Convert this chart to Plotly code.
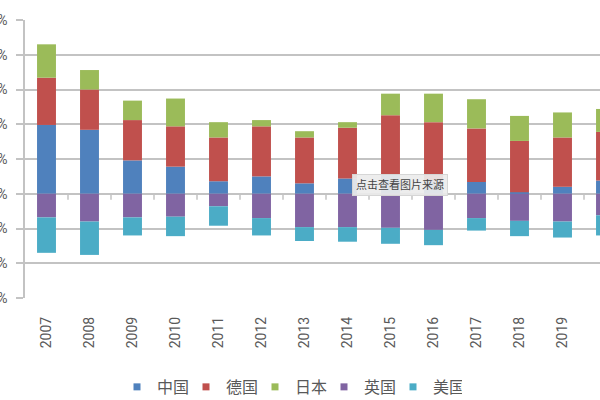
import plotly.graph_objects as go

years = ["2007", "2008", "2009", "2010", "2011", "2012", "2013",
         "2014", "2015", "2016", "2017", "2018", "2019", "2020"]
china   = [9.9, 9.2, 4.8, 3.9, 1.8, 2.5, 1.5, 2.2, 2.7, 1.8, 1.7, 0.2, 1.0, 1.9]
germany = [6.8, 5.8, 5.8, 5.8, 6.3, 7.2, 6.6, 7.3, 8.6, 8.5, 7.7, 7.4, 7.1, 7.0]
japan   = [4.8, 2.8, 2.8, 4.0, 2.2, 0.9, 0.9, 0.8, 3.1, 4.1, 4.2, 3.6, 3.6, 3.3]
uk      = [-3.4, -4.0, -3.4, -3.3, -1.8, -3.5, -4.8, -4.8, -4.9, -5.2, -3.5, -3.9, -4.0, -3.1]
usa     = [-5.1, -4.8, -2.6, -2.8, -2.8, -2.5, -2.0, -2.1, -2.3, -2.2, -1.8, -2.2, -2.3, -2.9]

series_names = ["中国", "德国", "日本", "英国", "美国"]
series_vals = [china, germany, japan, uk, usa]
colors = ["#4F81BD", "#C0504D", "#9BBB59", "#8064A2", "#4BACC6"]

y_ticks = [-15, -10, -5, 0, 5, 10, 15, 20, 25]
y_ticktext = [f"{v}%" for v in y_ticks]

FONT = "Roboto, Noto Sans CJK SC, sans-serif"
GREY = "#595959"
GRID = "#C3C3C3"

fig = go.Figure()
for name, vals, col in zip(series_names, series_vals, colors):
    fig.add_trace(go.Bar(x=years, y=vals, name=name, marker_color=col,
                         marker_line_width=0, showlegend=False))
# legend proxies with small square markers
for name, col in zip(series_names, colors):
    fig.add_trace(go.Scatter(x=[None], y=[None], mode="markers", name=name,
                             marker=dict(symbol="square", size=7, color=col)))

# small tick marks on the zero line at category boundaries
shapes = []
for i in range(len(years) - 1):
    shapes.append(dict(type="line", xref="x", yref="y", x0=i + 0.5, x1=i + 0.5,
                       ysizemode="pixel", yanchor=0, y0=0, y1=-6,
                       line=dict(color=GRID, width=1.5)))

fig.update_layout(
    width=600, height=400,
    margin=dict(l=25, r=0, t=20, b=102, autoexpand=False),
    paper_bgcolor="white", plot_bgcolor="white",
    barmode="relative", bargap=0.56,
    font=dict(family=FONT, color=GREY, size=13),
    shapes=shapes,
    xaxis=dict(range=[-0.5, 12.872], type="category", showgrid=False,
               tickangle=-90, tickfont=dict(size=14, color=GREY),
               ticks="", showline=False, ticklabelstandoff=15,
               automargin=False, fixedrange=True),
    yaxis=dict(range=[-15, 25], tickvals=y_ticks, ticktext=y_ticktext,
               showgrid=True, gridcolor=GRID, gridwidth=1.5,
               zeroline=False, showline=True, linecolor=GRID, linewidth=1.5,
               ticks="outside", ticklen=7, tickcolor=GRID, tickwidth=1.5,
               tickfont=dict(size=14, color=GREY), ticklabelstandoff=6,
               automargin=False, fixedrange=True),
    legend=dict(orientation="h", x=0.16, xanchor="left", y=-0.32, yanchor="middle",
                font=dict(size=16, color=GREY), entrywidth=24, entrywidthmode="pixels",
                itemclick=False, itemdoubleclick=False, bgcolor="rgba(0,0,0,0)"),
    annotations=[dict(text="点击查看图片来源", xref="paper", yref="paper",
                      x=0.652, y=0.4065, xanchor="center", yanchor="middle",
                      showarrow=False, font=dict(size=11, color="#444444"),
                      bgcolor="rgba(236,236,236,0.92)", bordercolor="#D6D6D6",
                      borderwidth=1, borderpad=3)],
)

fig.write_html("out.html", config={"displayModeBar": False},
               post_script="document.body.style.margin='0';document.body.style.overflow='hidden';")
